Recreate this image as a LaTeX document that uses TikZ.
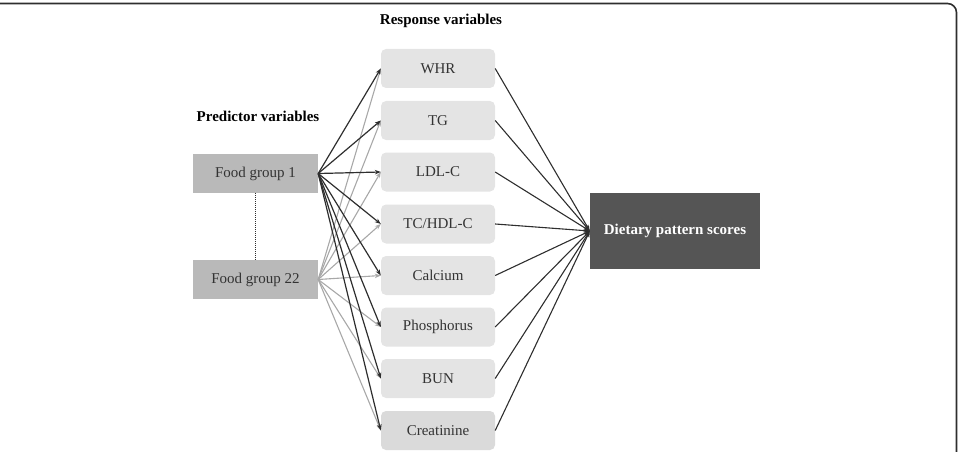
\documentclass[tikz,border=0pt]{standalone}
\usepackage{fontspec}
\setmainfont{Liberation Serif}
\usetikzlibrary{arrows.meta}
\definecolor{respfill}{HTML}{E4E4E4}
\definecolor{respfilldark}{HTML}{DADADA}
\definecolor{predfill}{HTML}{B9B9B9}
\definecolor{dpsfill}{HTML}{555555}
\definecolor{txtcol}{HTML}{333333}
\definecolor{darkline}{HTML}{2E2E2E}
\definecolor{grayline}{HTML}{A8A8A8}
\tikzset{
  resp/.style={rounded corners=5pt, fill=respfill, minimum width=114pt, minimum height=39pt,
    inner sep=0pt, font=\fontsize{15}{17}\selectfont, text=txtcol},
  pred/.style={fill=predfill, minimum width=125pt, minimum height=39pt, inner sep=0pt,
    font=\fontsize{15}{17}\selectfont, text=txtcol},
  dps/.style={fill=dpsfill, minimum width=170pt, minimum height=76pt, inner sep=0pt,
    font=\fontsize{15}{17}\selectfont\bfseries, text=white},
  heading/.style={font=\fontsize{15}{17}\selectfont\bfseries, text=black},
  darkarrow/.style={draw=darkline, line width=1.2pt, -{Stealth[length=6pt,width=4.5pt]}},
  grayarrow/.style={draw=grayline, line width=1.1pt, -{Stealth[length=6pt,width=4.5pt]}},
  outarrow/.style={draw=darkline, line width=1.1pt, -{Stealth[length=6pt,width=4.5pt]}},
  frameline/.style={draw=darkline, line width=1.6pt}
}
\begin{document}
\begin{tikzpicture}[x=1pt,y=-1pt]
\useasboundingbox (0,0) rectangle (959,452);
\begin{scope}
\clip (0,0) rectangle (959,452);
\draw[frameline, rounded corners=9pt] (-10,3.5) -- (956.5,3.5) -- (956.5,470);
\end{scope}

\node[heading] (rh) at (441,21) {Response variables};
\node[heading] (ph) at (258,116) {Predictor variables};

\node[pred] (fg1) at (255.5,173.5) {Food group 1};
\node[pred] (fg22) at (255.5,279.5) {Food group 22};
\draw[darkline, line width=1pt, densely dotted] (fg1.south) -- (fg22.north);

\node[resp] (r1) at (438,68.5) {WHR};
\node[resp] (r2) at (438,120.5) {TG};
\node[resp] (r3) at (438,172) {LDL-C};
\node[resp] (r4) at (438,224) {TC/HDL-C};
\node[resp] (r5) at (438,275.5) {Calcium};
\node[resp] (r6) at (438,327) {Phosphorus};
\node[resp] (r7) at (438,378.5) {BUN};
\node[resp, fill=respfilldark] (r8) at (438,430.5) {Creatinine};

\node[dps] (d) at (675,231) {Dietary pattern scores};

\foreach \i in {1,...,8} {
  \draw[grayarrow] (fg22.east) -- (r\i.west);
}
\foreach \i in {1,...,8} {
  \draw[darkarrow] (fg1.east) -- (r\i.west);
}
\foreach \i in {1,...,8} {
  \draw[outarrow] (r\i.east) -- (d.west);
}
\end{tikzpicture}
\end{document}
